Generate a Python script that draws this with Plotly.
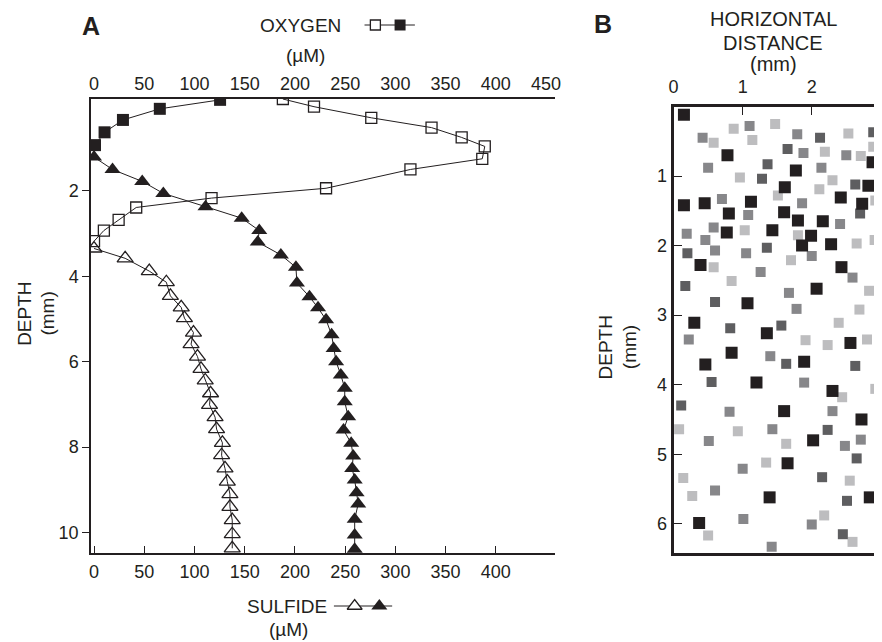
import plotly.graph_objects as go

# ---- panel A: oxygen (top axis) and sulfide (bottom axis) depth profiles ----
oxy_open_x = [188, 219, 276, 336, 366, 389, 386.5, 315, 231, 117, 42, 24.5, 9.8, 0]
oxy_open_depth = [-0.15, 0.03, 0.29, 0.52, 0.75, 0.96, 1.25, 1.5, 1.94, 2.17, 2.39, 2.68, 2.93, 3.18]

oxy_fill_x = [125.5, 65.5, 28.8, 10.5, 1]
oxy_fill_depth = [-0.13, 0.08, 0.34, 0.63, 0.93]

sul_open_x = [0, 31, 55, 72, 76, 86.8, 90, 99, 96.6, 103, 106.5, 110.7, 116, 115,
              120.5, 122, 127.8, 127, 130.4, 132.7, 135.3, 135.3, 137.6, 137.6, 137.6]
sul_open_depth = [3.35, 3.58, 3.88, 4.14, 4.46, 4.73, 4.98, 5.32, 5.59, 5.88, 6.17, 6.44,
                  6.74, 7.01, 7.3, 7.58, 7.9, 8.19, 8.5, 8.81, 9.1, 9.4, 9.71, 10.04, 10.37]

sul_fill_x = [0, 18.4, 48, 69, 111, 147, 164.5, 163, 186, 201, 202, 214.5, 223, 231,
              236.5, 238.5, 241, 245.7, 249.6, 249.6, 253, 248.4, 256, 258, 257, 259.5,
              261.4, 263, 259.5, 259.5, 259.5]
sul_fill_depth = [1.21, 1.5, 1.78, 2.06, 2.37, 2.64, 2.93, 3.2, 3.5, 3.79, 4.16, 4.48,
                  4.74, 5.02, 5.37, 5.69, 6.0, 6.31, 6.62, 6.94, 7.29, 7.6, 7.91, 8.21,
                  8.5, 8.77, 9.07, 9.33, 9.69, 10.06, 10.39]

top_ticks = [0, 50, 100, 150, 200, 250, 300, 350, 400, 450]
bottom_ticks = [0, 50, 100, 150, 200, 250, 300, 350, 400]
depth_ticks_a = [2, 4, 6, 8, 10]

# ---- panel B: squares by grey shade (horizontal mm, depth mm) ----
black_h = [0.15, 0.78, 2.88, 1.77, 1.61, 2.82, 0.15, 0.45, 0.80, 1.12, 1.60, 2.42, 2.73,
           0.77, 1.43, 1.80, 2.16, 1.99, 1.86, 2.28, 0.39, 2.43, 2.07, 1.07, 0.30, 1.35,
           0.84, 2.56, 0.46, 1.89, 1.20, 2.30, 1.60, 2.72, 2.02, 1.65, 1.39, 2.84, 0.37]
black_d = [0.12, 0.70, 0.80, 0.92, 1.16, 1.14, 1.42, 1.39, 1.54, 1.37, 1.52, 1.31, 1.40,
           1.81, 1.78, 1.64, 1.65, 1.86, 2.00, 1.98, 2.28, 2.31, 2.62, 2.83, 3.11, 3.26,
           3.54, 3.40, 3.71, 3.67, 3.97, 4.09, 4.38, 4.50, 4.80, 5.13, 5.62, 5.62, 5.99]

dark_h = [2.12, 2.89, 1.65, 1.36, 1.28, 2.63, 2.70, 0.20, 1.35, 0.17, 0.60, 0.82, 1.56,
          1.63, 2.63, 0.55, 0.11, 2.23, 2.65, 2.15, 2.51, 2.45]
dark_d = [0.45, 0.37, 0.61, 0.83, 1.04, 1.12, 1.54, 2.11, 2.03, 2.58, 2.81, 3.19, 3.15,
          3.70, 3.73, 3.96, 4.30, 4.65, 5.06, 5.33, 5.67, 6.15]

mid_h = [1.10, 0.42, 1.79, 1.88, 2.50, 0.50, 2.14, 0.70, 1.08, 1.86, 0.58, 2.41, 0.19,
         0.46, 0.60, 1.05, 2.00, 1.26, 2.59, 1.67, 1.78, 0.22, 1.40, 1.89, 0.81, 2.30,
         0.51, 1.43, 2.48, 2.71, 1.00, 0.60, 1.01, 2.00, 1.42]
mid_d = [0.28, 0.45, 0.40, 0.67, 0.70, 0.88, 0.88, 1.33, 1.56, 1.39, 1.74, 1.69, 1.83,
         1.92, 2.07, 2.11, 2.15, 2.38, 2.46, 2.68, 2.91, 3.35, 3.59, 3.97, 4.39, 4.38,
         4.81, 4.64, 4.88, 4.79, 5.21, 5.52, 5.93, 6.01, 6.33]

light_h = [0.87, 1.47, 0.58, 1.14, 2.53, 2.19, 2.71, 2.89, 0.96, 2.30, 2.11, 1.51, 2.92,
           1.03, 1.80, 2.65, 2.91, 1.70, 0.58, 0.84, 2.83, 2.69, 2.39, 1.91, 2.23, 2.80,
           2.44, 2.92, 0.08, 0.93, 1.63, 1.34, 0.14, 2.55, 0.27, 2.18, 0.50, 2.59]
light_d = [0.32, 0.25, 0.52, 0.48, 0.39, 0.65, 0.71, 0.58, 1.02, 1.06, 1.19, 1.28, 1.35,
           1.78, 1.85, 1.97, 1.92, 2.21, 2.31, 2.51, 2.65, 2.92, 3.11, 3.36, 3.43, 3.35,
           4.18, 4.06, 4.64, 4.67, 4.85, 5.12, 5.34, 5.38, 5.60, 5.88, 6.17, 6.26]

dist_ticks = [0, 1, 2]
depth_ticks_b = [1, 2, 3, 4, 5, 6]

INK = "#231f20"
OFF = 8  # the page body keeps its default 8px margin
W, H = 882 - OFF, 642 - OFF
FONT = "Arial, Liberation Sans, sans-serif"


def fx(px):
    return (px - OFF) / W


def fy(py):
    return 1 - (py - OFF) / H


fig = go.Figure()

line = dict(color=INK, width=1)
fig.add_trace(go.Scatter(x=oxy_open_x, y=oxy_open_depth, xaxis="x2", yaxis="y",
                         mode="lines+markers", line=line,
                         marker=dict(symbol="square-open", size=11, color=INK, line=dict(width=1.3))))
fig.add_trace(go.Scatter(x=oxy_fill_x, y=oxy_fill_depth, xaxis="x2", yaxis="y",
                         mode="lines+markers", line=line,
                         marker=dict(symbol="square", size=12, color=INK)))
fig.add_trace(go.Scatter(x=sul_open_x, y=sul_open_depth, xaxis="x", yaxis="y",
                         mode="lines+markers", line=line,
                         marker=dict(symbol="triangle-up-open", size=14, color=INK, line=dict(width=1.3))))
fig.add_trace(go.Scatter(x=sul_fill_x, y=sul_fill_depth, xaxis="x", yaxis="y",
                         mode="lines+markers", line=line,
                         marker=dict(symbol="triangle-up", size=14, color=INK)))

for hx, dy, col, sz in [(light_h, light_d, "#bdbdbf", 10), (mid_h, mid_d, "#87878a", 10),
                        (dark_h, dark_d, "#5e5e60", 10), (black_h, black_d, INK, 12)]:
    fig.add_trace(go.Scatter(x=hx, y=dy, xaxis="x4", yaxis="y4", mode="markers",
                             marker=dict(symbol="square", size=sz, color=col)))

# legend keys drawn on a full-page axis pair measured in reference pixels
fig.add_trace(go.Scatter(x=[364, 415], y=[25, 25], xaxis="x5", yaxis="y5", mode="lines", line=line))
fig.add_trace(go.Scatter(x=[375], y=[25], xaxis="x5", yaxis="y5", mode="markers",
                         marker=dict(symbol="square", size=10, color="white", line=dict(color=INK, width=1.3))))
fig.add_trace(go.Scatter(x=[400], y=[25], xaxis="x5", yaxis="y5", mode="markers",
                         marker=dict(symbol="square", size=11, color=INK)))
fig.add_trace(go.Scatter(x=[333, 392], y=[606, 606], xaxis="x5", yaxis="y5", mode="lines", line=line))
fig.add_trace(go.Scatter(x=[354], y=[606], xaxis="x5", yaxis="y5", mode="markers",
                         marker=dict(symbol="triangle-up", size=13, color="white", line=dict(color=INK, width=1.3))))
fig.add_trace(go.Scatter(x=[379], y=[606], xaxis="x5", yaxis="y5", mode="markers",
                         marker=dict(symbol="triangle-up", size=14, color=INK)))

ax_a = [fx(87), fx(557)]
ay_a = [fy(553), fy(99)]
xr = [-3, 459]
yr = [10.48, -0.15]
common = dict(showgrid=False, zeroline=False, linecolor=INK, tickcolor=INK, tickwidth=1.3,
              tickfont=dict(size=18, color=INK))

fig.update_layout(
    width=W, height=H, showlegend=False,
    margin=dict(l=0, r=0, t=0, b=0),
    paper_bgcolor="white", plot_bgcolor="rgba(0,0,0,0)",
    font=dict(family=FONT, color=INK, size=18),
    xaxis=dict(domain=ax_a, range=xr, anchor="y", side="bottom", tickvals=bottom_ticks,
               ticks="inside", ticklen=7, showline=True, linewidth=1.5, ticklabelstandoff=2, **common),
    xaxis2=dict(domain=ax_a, range=xr, anchor="y", overlaying="x", side="top", tickvals=top_ticks,
                ticks="", showline=True, linewidth=1.5, **common),
    xaxis3=dict(domain=ax_a, range=xr, anchor="y", overlaying="x", side="top",
                tickvals=[100, 200, 300, 400], ticks="inside", ticklen=8,
                showticklabels=False, showline=False, **common),
    yaxis=dict(domain=ay_a, range=yr, anchor="x", tickvals=depth_ticks_a, ticks="outside",
               ticklen=7, showline=True, linewidth=1.5, **common),
    yaxis2=dict(domain=ay_a, range=yr, anchor="x", overlaying="y", side="right",
                tickvals=depth_ticks_a, ticks="inside", ticklen=7, showticklabels=False,
                showline=True, linewidth=1.5, **common),
    xaxis4=dict(domain=[fx(677), 1], range=[0, 2.93], anchor="y4", side="top",
                tickvals=dist_ticks, ticks="inside", ticklen=8, showline=True, linewidth=3,
                mirror=True, ticklabelstandoff=3, **common),
    yaxis4=dict(domain=[fy(553), fy(106.5)], range=[6.42, 0], anchor="x4",
                tickvals=depth_ticks_b, ticks="inside", ticklen=8, showline=True, linewidth=3,
                **common),
    xaxis5=dict(domain=[0, 1], range=[OFF, 882], anchor="y5", visible=False, fixedrange=True),
    yaxis5=dict(domain=[0, 1], range=[642, OFF], anchor="x5", visible=False, fixedrange=True),
)


def txt(text, x, y, size=19, angle=0, bold=False):
    fig.add_annotation(text=f"<b>{text}</b>" if bold else text, x=fx(x), y=fy(y),
                       xref="paper", yref="paper", showarrow=False, textangle=angle,
                       xanchor="center", yanchor="middle", font=dict(size=size, color=INK))


txt("A", 87, 26, size=25, bold=True)
txt("B", 606, 24, size=25, bold=True)
txt("OXYGEN", 299, 25)
txt("(µM)", 304, 56)
txt("SULFIDE", 285, 606)
txt("(µM)", 287, 629)
txt("DEPTH", 19, 314, angle=-90)
txt("(mm)", 42, 314, angle=-90)
txt("DEPTH", 608, 347, angle=-90)
txt("(mm)", 632, 347, angle=-90)
txt("HORIZONTAL", 778, 19, size=20)
txt("DISTANCE", 778, 43, size=20)
txt("(mm)", 778, 64, size=20)
txt("3", 885, 90, size=18)

fig.write_html("out.html")
